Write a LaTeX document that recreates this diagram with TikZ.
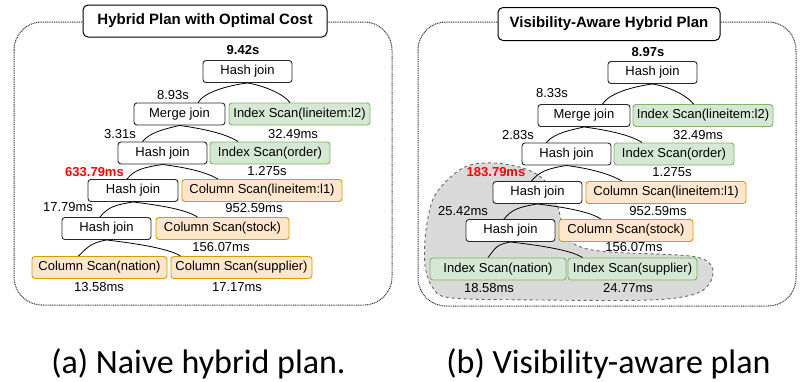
\documentclass[tikz,border=0pt]{standalone}
\usepackage{fontspec}
\setmainfont{Liberation Sans}
\newfontfamily\capfont{Carlito}
\usetikzlibrary{positioning}

\definecolor{idxfill}{HTML}{D5E8D4}
\definecolor{idxline}{HTML}{82B366}
\definecolor{colfill}{HTML}{FFE6CC}
\definecolor{colline}{HTML}{D79B00}
\definecolor{blobfill}{HTML}{DADADA}

\tikzset{
  op/.style={draw=black!85,fill=white,rounded corners=3pt,line width=0.9pt,
    minimum width=89pt,minimum height=22pt,inner sep=0pt,font=\fontsize{13}{15}\selectfont},
  idx/.style={op,fill=idxfill,draw=idxline},
  col/.style={op,fill=colfill,draw=colline},
  cost/.style={font=\fontsize{13}{15}\selectfont,inner sep=0pt},
  hot/.style={cost,text=red,font=\fontsize{13}{15}\selectfont\bfseries},
  title/.style={draw=black,fill=white,rounded corners=5pt,line width=1pt,inner sep=0pt,
    font=\fontsize{15}{18}\selectfont\bfseries},
  frame/.style={draw=black!80,line width=1pt,dash pattern=on 1pt off 0.8pt,rounded corners=28pt},
  link/.style={draw=black,line width=0.8pt},
  caption/.style={font=\capfont\fontsize{34}{40}\selectfont,inner sep=0pt,anchor=base}
}

\begin{document}
\begin{tikzpicture}[x=1pt,y=-1pt]
  \useasboundingbox (0,0) rectangle (811,381);

  % frames
  \draw[frame] (14,22) rectangle (392,305);
  \draw[frame] (418,22) rectangle (796,306);
  \node[title,minimum width=244pt,minimum height=32pt] (Lt) at (205,21) {Hybrid Plan with Optimal Cost};
  \node[title,minimum width=222pt,minimum height=33pt] (Rt) at (609,24) {Visibility-Aware Hybrid Plan};

  % visibility-aware region
  \draw[fill=blobfill,draw=black!60,dashed,line width=0.9pt]
    plot[smooth cycle,tension=0.55] coordinates {(453,175) (470,165) (495,163) (523,168) (542,178)
      (554,195) (560,215) (564,232) (578,246) (610,252) (690,256) (711,265) (711,281)
      (695,294) (650,300) (540,300) (452,298) (433,288) (425,265) (426,230) (434,197)};

  % (a) naive hybrid plan
  \node[op] (L1) at (247.5, 71.5) {Hash join};
  \node[op,minimum width=91pt] (L2) at (179.5, 114) {Merge join};
  \node[idx,minimum width=141pt] (L2r) at (299.5, 114) {Index Scan(lineitem:l2)};
  \node[op] (L3) at (162.5, 153) {Hash join};
  \node[idx,minimum width=120pt] (L3r) at (270, 153) {Index Scan(order)};
  \node[op,minimum width=90pt] (L4) at (133, 190.5) {Hash join};
  \node[col,minimum width=160pt] (L4r) at (262, 190.5) {Column Scan(lineitem:l1)};
  \node[op] (L5) at (106.5, 228.5) {Hash join};
  \node[col,minimum width=133pt] (L5r) at (222.5, 228.5) {Column Scan(stock)};
  \node[col,minimum width=135pt] (L6a) at (99.5, 267.5) {Column Scan(nation)};
  \node[col,minimum width=141pt] (L6b) at (241.5, 267.5) {Column Scan(supplier)};

  \node[cost,font=\fontsize{13}{15}\selectfont\bfseries] (Lc1) at (243, 50) {9.42s};
  \node[cost] (Lc2) at (173, 95) {8.93s};
  \node[cost] (Lc2r) at (293, 134) {32.49ms};
  \node[cost] (Lc3) at (120, 134) {3.31s};
  \node[cost] (Lc3r) at (267, 171) {1.275s};
  \node[hot] (Lc4) at (94.5, 172) {633.79ms};
  \node[cost] (Lc4r) at (254, 208) {952.59ms};
  \node[cost] (Lc5) at (68, 207) {17.79ms};
  \node[cost] (Lc5r) at (221, 247) {156.07ms};
  \node[cost] (Lc6a) at (99, 287) {13.58ms};
  \node[cost] (Lc6b) at (237, 287) {17.17ms};

  % (b) visibility-aware plan
  \node[op] (R1) at (652.5, 72.5) {Hash join};
  \node[op,minimum width=92pt] (R2) at (584, 115.5) {Merge join};
  \node[idx,minimum width=140pt] (R2r) at (703, 115.5) {Index Scan(lineitem:l2)};
  \node[op] (R3) at (566.5, 154) {Hash join};
  \node[idx,minimum width=120pt] (R3r) at (674, 154) {Index Scan(order)};
  \node[op] (R4) at (537.5, 192.5) {Hash join};
  \node[col,minimum width=160pt] (R4r) at (666, 192.5) {Column Scan(lineitem:l1)};
  \node[op] (R5) at (510.5, 230.5) {Hash join};
  \node[col,minimum width=134pt] (R5r) at (626, 230.5) {Column Scan(stock)};
  \node[idx,minimum width=136pt] (R6a) at (498, 269) {Index Scan(nation)};
  \node[idx,minimum width=129pt] (R6b) at (632.5, 269) {Index Scan(supplier)};

  \node[cost,font=\fontsize{13}{15}\selectfont\bfseries] (Rc1) at (648, 52) {8.97s};
  \node[cost] (Rc2) at (552, 93) {8.33s};
  \node[cost] (Rc2r) at (698, 135) {32.49ms};
  \node[cost] (Rc3) at (518, 135) {2.83s};
  \node[cost] (Rc3r) at (672, 172) {1.275s};
  \node[hot] (Rc4) at (496, 172) {183.79ms};
  \node[cost] (Rc4r) at (658, 211) {952.59ms};
  \node[cost] (Rc5) at (463, 211) {25.42ms};
  \node[cost] (Rc5r) at (634, 247) {156.07ms};
  \node[cost] (Rc6a) at (489, 288) {18.58ms};
  \node[cost] (Rc6b) at (628, 288) {24.77ms};

  % plan edges (y grows downwards here)
  \foreach \s in {L,R} {
    \draw[link] (\s1.south) .. controls +(-22,3) and +(6,-10) .. ([xshift=18.5pt]\s2.north);
    \draw[link] (\s1.south) .. controls +(18,3) and +(-6,-8) .. ([xshift=-9.5pt]\s2r.north);
    \draw[link] (\s2.south) .. controls +(-12,3) and +(8,-10) .. ([xshift=-20pt]\s3.north);
    \draw[link] (\s2.south) .. controls +(22,3) and +(-12,-8) .. ([xshift=-32pt]\s3r.north);
    \draw[link] (\s3.south) .. controls +(-18,3) and +(8,-10) .. ([xshift=-6pt]\s4.north);
    \draw[link] (\s3.south) .. controls +(22,3) and +(-14,-8) .. ([xshift=-44pt]\s4r.north);
    \draw[link] (\s4.south) .. controls +(-18,3) and +(8,-10) .. ([xshift=-6.5pt]\s5.north);
    \draw[link] (\s4.south) .. controls +(24,3) and +(-12,-8) .. ([xshift=-25pt]\s5r.north);
  }
  \draw[link] (L5.south) .. controls +(-15,3) and +(10,-10) .. ([xshift=-21pt]L6a.north);
  \draw[link] (L5.south) .. controls +(25,3) and +(-12,-8) .. ([xshift=-61pt]L6b.north);
  \draw[link] (R5.south) .. controls +(-15,3) and +(8,-10) .. ([xshift=-10pt]R6a.north);
  \draw[link] (R5.south) .. controls +(25,3) and +(-12,-8) .. ([xshift=-50pt]R6b.north);

  % captions
  \node[caption] (capa) at (198.5, 373) {(a) Naive hybrid plan.};
  \node[caption] (capb) at (608.5, 373) {(b) Visibility-aware plan};
\end{tikzpicture}
\end{document}
